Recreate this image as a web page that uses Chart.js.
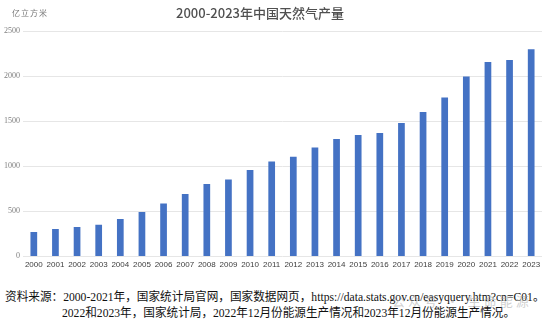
<!DOCTYPE html>
<html>
<head>
<meta charset="utf-8">
<script src="https://cdn.jsdelivr.net/npm/chart.js@4.4.1/dist/chart.umd.min.js"></script>
<style>
  body { margin: 0; background: #fff; width: 550px; height: 325px; overflow: hidden; position: relative; }
  #wrap { position: absolute; left: 0; top: 0; width: 550px; height: 278px; }
  .title { position: absolute; top: 3px; left: 0; width: 520px; text-align: center;
    font: 500 13px "Noto Sans CJK SC", sans-serif; color: #505050; }
  .unit { position: absolute; top: 7px; left: 12px; font: 8px "Noto Sans CJK SC", sans-serif; color: #777; letter-spacing: 1px; }
  .note { position: absolute; font: 12px "Liberation Serif", "Noto Sans CJK SC", serif; color: #111;
    white-space: nowrap; transform-origin: 0 0; }
  .mark { position: absolute; left: 392px; top: 291px; font: 13px "Noto Sans CJK SC", sans-serif; color: rgba(160,160,160,0.5); letter-spacing: 3px; }
</style>
</head>
<body>
<div id="wrap"><canvas id="gasChart"></canvas></div>
<div class="title">2000-2023年中国天然气产量</div>
<div class="unit">亿立方米</div>
<div class="note" id="n1" style="left:5px; top:287px;">资料来源：2000-2021年，国家统计局官网，国家数据网页，https://data.stats.gov.cn/easyquery.htm?cn=C01。</div>
<div class="note" id="n2" style="left:62px; top:303px;">2022和2023年，国家统计局，2022年12月份能源生产情况和2023年12月份能源生产情况。</div>
<div class="mark">公众号 · 生命能源</div>
<script>
// years on the x axis
let years = ["2000","2001","2002","2003","2004","2005","2006","2007","2008","2009","2010","2011",
             "2012","2013","2014","2015","2016","2017","2018","2019","2020","2021","2022","2023"]

// natural gas output, 亿立方米
let output = [272, 303, 327, 350, 415, 493, 586, 692, 803, 853, 958, 1053,
              1106, 1209, 1302, 1346, 1369, 1480, 1602, 1762, 1994, 2155, 2178, 2297]

let yTicks = [0, 500, 1000, 1500, 2000, 2500]

let barColor = "#4472C4"

// squeeze the source notes to the width they take in the picture
const fitNote = (id, w) => {
    let el = document.getElementById(id)
    el.style.transform = "scaleX(" + (w / el.offsetWidth) + ")"
}
fitNote("n1", 540)
fitNote("n2", 453)

const gasChart = new Chart("gasChart", {
    type: "bar",
    data: {
        labels: years,
        datasets: [{
            data: output,
            backgroundColor: barColor,
            borderWidth: 0,
            barPercentage: 0.31,
            categoryPercentage: 1.0
        }]
    },
    options: {
        responsive: true,
        maintainAspectRatio: false,
        animation: false,
        layout: { padding: { top: 31, right: 8, left: 1, bottom: 4 } },
        plugins: {
            legend: { display: false },
            tooltip: { enabled: false }
        },
        scales: {
            x: {
                grid: { display: false, drawTicks: false },
                border: { display: false },
                ticks: {
                    padding: 4,
                    maxRotation: 0,
                    autoSkip: false,
                    color: "#404040",
                    font: { family: "Liberation Sans", size: 8 }
                }
            },
            y: {
                min: 0,
                max: 2500,
                afterBuildTicks: (axis) => { axis.ticks = yTicks.map(v => ({ value: v })) },
                grid: { color: "#e6e6e6", drawTicks: false, lineWidth: 1 },
                border: { display: false },
                ticks: {
                    padding: 3,
                    color: "#7f7f7f",
                    font: { family: "Liberation Serif", size: 8 },
                    callback: (v) => String(v)
                }
            }
        }
    }
})
</script>
</body>
</html>
